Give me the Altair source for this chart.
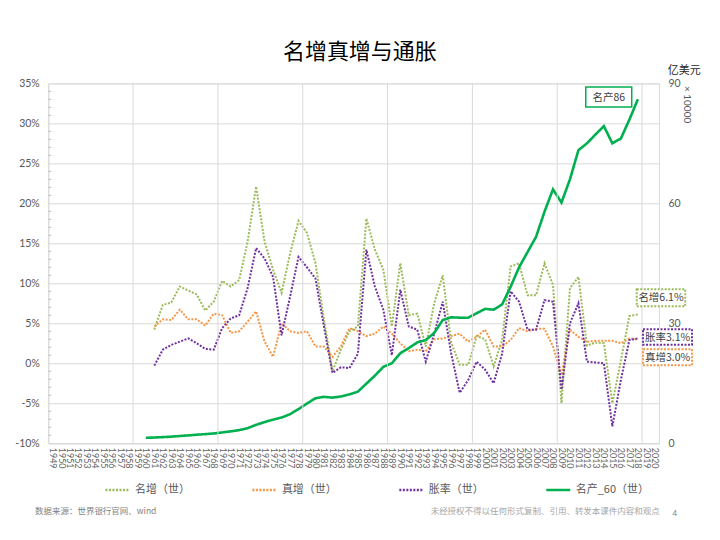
import altair as alt
import pandas as pd

# ---------------- data ----------------
YEARS_G = list(range(1961, 2019))
NOMINAL = [4.2, 7.3, 7.6, 9.6, 9.1, 8.6, 6.6, 7.7, 10.3, 9.6,
           10.4, 15.2, 22.1, 15.2, 11.7, 8.8, 13.7, 17.8, 16.3, 12.5,
           5.5, -1.0, 1.7, 4.0, 4.6, 18.1, 14.2, 11.7, 4.6, 12.5,
           6.0, 6.2, 2.1, 7.5, 11.0, 2.6, -0.2, -0.2, 3.4, 3.0,
           -0.4, 2.9, 12.1, 12.5, 8.5, 8.5, 12.5, 9.8, -5.0, 9.4,
           10.8, 2.2, 2.6, 2.5, -5.0, 0.3, 5.9, 6.1]
REAL = [4.6, 5.5, 5.4, 6.7, 5.5, 5.5, 4.7, 6.2, 6.0, 3.8,
        4.0, 5.2, 6.5, 2.7, 0.8, 5.0, 4.0, 3.8, 4.0, 2.1,
        2.1, 0.8, 2.1, 4.4, 4.0, 3.4, 3.7, 4.6, 3.7, 2.5,
        1.5, 1.7, 1.5, 3.0, 3.1, 3.4, 3.7, 2.7, 3.3, 4.2,
        2.1, 2.1, 2.9, 4.4, 4.0, 4.3, 4.3, 2.1, -1.5, 4.2,
        3.3, 2.7, 2.8, 2.8, 2.8, 2.5, 3.1, 3.0]
INFLATION = [-0.3, 1.7, 2.3, 2.7, 3.1, 2.5, 1.8, 1.7, 4.4, 5.6,
             6.0, 9.4, 14.4, 13.1, 10.8, 3.5, 8.3, 13.3, 12.0, 10.6,
             4.6, -1.2, -0.5, -0.6, 1.2, 14.2, 9.6, 6.7, 1.0, 9.2,
             4.6, 4.2, 0.2, 3.7, 7.7, 1.2, -3.7, -2.1, 0.2, -0.8,
             -2.5, 1.2, 9.0, 7.7, 4.2, 4.2, 7.9, 7.7, -3.3, 5.0,
             7.5, 0.2, 0.1, 0.0, -7.9, -2.1, 2.9, 3.1]
YEARS_GDP = list(range(1960, 2019))
GDP = [1.37, 1.42, 1.53, 1.64, 1.80, 1.96, 2.13, 2.27, 2.44, 2.69,
       2.96, 3.27, 3.77, 4.60, 5.29, 5.90, 6.41, 7.26, 8.54, 9.93,
       11.25, 11.6, 11.4, 11.7, 12.2, 12.9, 14.9, 16.9, 19.1, 20.0,
       22.5, 23.8, 25.2, 25.8, 27.6, 30.8, 31.5, 31.4, 31.4, 32.5,
       33.6, 33.4, 34.7, 39.1, 44.0, 47.8, 51.6, 57.9, 63.5, 60.2,
       66.0, 73.3, 75.0, 77.2, 79.3, 75.0, 76.2, 80.9, 86.0]

SERIES = ["名增（世）", "真增（世）", "胀率（世）", "名产_60（世）"]
COLORS = ["#9BBB59", "#F79646", "#7030A0", "#00B050"]
X_LABELS = list(range(1949, 2021))
Y_TICKS = list(range(-10, 36, 5))
RIGHT_TICKS = [0, 30, 60, 90]
DECADE_LINES = [1958.5 + 10 * i for i in range(7)]
MINOR_TICKS = [v for v in range(-9, 35) if v % 5 != 0]

TITLE = "名增真增与通胀"
RIGHT_UNIT = "亿美元"
RIGHT_MULT = "× 10000"
SOURCE = "数据来源：世界银行官网、wind"
NOTICE = "未经授权不得以任何形式复制、引用、转发本课件内容和观点"
PAGE = "4"

# ---------------- build tables ----------------
growth_df = pd.concat([
    pd.DataFrame({"year": YEARS_G, "value": NOMINAL, "series": SERIES[0]}),
    pd.DataFrame({"year": YEARS_G, "value": REAL, "series": SERIES[1]}),
    pd.DataFrame({"year": YEARS_G, "value": INFLATION, "series": SERIES[2]}),
], ignore_index=True)
gdp_df = pd.DataFrame({"year": YEARS_GDP, "gdp": GDP, "series": SERIES[3]})

W, H = 611, 360
CJK = "Noto Sans CJK SC"
NUM = "Lato"
GRID = "#D9D9D9"
LABEL = "#595959"

x_scale = alt.Scale(domain=[1948.5, 2020.5], nice=False, zero=False)
y_scale = alt.Scale(domain=[-10, 35], nice=False, zero=False)
y2_scale = alt.Scale(domain=[0, 90], nice=False, zero=False)
color_scale = alt.Scale(domain=SERIES, range=COLORS)
dash_scale = alt.Scale(domain=SERIES, range=[[2, 1.5], [2, 1.5], [2, 1.5], [1, 0]])

legend = alt.Legend(orient="none", legendX=55.7, legendY=393, direction="horizontal",
                    columns=4, symbolType="stroke", symbolSize=576, symbolStrokeWidth=2.4,
                    labelFont=CJK, labelFontSize=11, labelColor=LABEL, labelOffset=4,
                    columnPadding=57, padding=0)

x_axis = alt.Axis(values=X_LABELS, format="d", labelAngle=90, labelFontSize=9,
                  labelFont=NUM, labelColor="#666666", labelOverlap=False,
                  labelFlush=False, labelPadding=4, grid=False, ticks=False,
                  domain=True, domainColor=GRID, title=None)


def x_enc():
    return alt.X("year:Q", scale=x_scale, axis=x_axis)


growth = alt.Chart(growth_df).mark_line(strokeWidth=2, strokeCap="butt").encode(
    x=x_enc(),
    y=alt.Y("value:Q", scale=y_scale,
            axis=alt.Axis(values=Y_TICKS, labelExpr="datum.value + '%'", orient="left",
                          labelFont=NUM, labelFontSize=10.5, labelColor=LABEL,
                          labelPadding=9, ticks=False, grid=True, gridColor=GRID,
                          domain=True, domainColor=GRID, title=None)),
    color=alt.Color("series:N", scale=color_scale, legend=legend, title=None),
    strokeDash=alt.StrokeDash("series:N", scale=dash_scale, legend=legend, title=None),
)

gdp = alt.Chart(gdp_df).mark_line(strokeWidth=2.6).encode(
    x=x_enc(),
    y=alt.Y("gdp:Q", scale=y2_scale,
            axis=alt.Axis(values=RIGHT_TICKS, orient="right", labelFont=NUM,
                          labelFontSize=10.5, labelColor=LABEL, labelPadding=9,
                          ticks=False, grid=False, domain=False, title=None)),
    color=alt.Color("series:N", scale=color_scale, legend=legend, title=None),
    strokeDash=alt.StrokeDash("series:N", scale=dash_scale, legend=legend, title=None),
)

vgrid = alt.Chart(pd.DataFrame({"year": DECADE_LINES})).mark_rule(
    color=GRID, strokeWidth=1).encode(
    x=x_enc(), y=alt.value(0), y2=alt.value(H))

minor = alt.Chart(pd.DataFrame({"v": MINOR_TICKS})).mark_rule(
    color="#BFBFBF", strokeWidth=1).encode(
    y=alt.Y("v:Q", scale=y_scale, axis=None), x=alt.value(0), x2=alt.value(3))


def text_layer(txt, x, y, size, color, font=CJK, align="center", angle=0, weight="normal"):
    return alt.Chart(pd.DataFrame({"t": [txt]})).mark_text(
        font=font, fontSize=size, color=color, align=align, baseline="middle",
        angle=angle, fontWeight=weight).encode(
        x=alt.value(x), y=alt.value(y), text="t:N")


def box_layer(txt, x0, x1, y0, y1, color, dashed):
    props = dict(fill="white", stroke=color, strokeWidth=2 if dashed else 1.5)
    if dashed:
        props["strokeDash"] = [2, 1.5]
    rect = alt.Chart(pd.DataFrame({"t": [txt]})).mark_rect(**props).encode(
        x=alt.value(x0), x2=alt.value(x1), y=alt.value(y0), y2=alt.value(y1))
    label = text_layer(txt, (x0 + x1) / 2, (y0 + y1) / 2 + 0.5, 10.5, "#404040")
    return [rect, label]


boxes = []
boxes += box_layer(f"名产{GDP[-1]:.0f}", 537.7, 583.7, 3.7, 23.7, COLORS[3], False)
boxes += box_layer(f"名增{NOMINAL[-1]:.1f}%", 588.7, 637.2, 206.0, 223.0, COLORS[0], True)
boxes += box_layer(f"胀率{INFLATION[-1]:.1f}%", 595.0, 644.0, 246.0, 261.5, COLORS[2], True)
boxes += box_layer(f"真增{REAL[-1]:.1f}%", 595.0, 644.0, 266.0, 282.0, COLORS[1], True)

texts = [
    text_layer(TITLE, 311.7, -31.3, 22, "#000000"),
    text_layer(RIGHT_UNIT, 619.7, -12.3, 11, "#262626", align="left"),
    text_layer(RIGHT_MULT, 639.2, 21.2, 10, LABEL, font=NUM, angle=90),
    text_layer(SOURCE, -13.3, 427.7, 8.5, "#7F7F7F", align="left"),
    text_layer(NOTICE, 611.7, 427.7, 8.5, "#A6A6A6", align="right"),
    text_layer(PAGE, 626.7, 430.7, 8, "#7F7F7F", font=NUM),
]

chart = alt.layer(growth, gdp, vgrid, minor, *boxes, *texts).resolve_scale(
    y="independent"
).properties(
    width=W, height=H,
    autosize=alt.AutoSizeParams(type="none"),
    padding={"left": 40.3, "top": 75.3, "right": 53, "bottom": 80},
).configure_view(strokeWidth=0).configure(background="white")

chart.save("out.html", embed_options={"renderer": "svg", "actions": False})
